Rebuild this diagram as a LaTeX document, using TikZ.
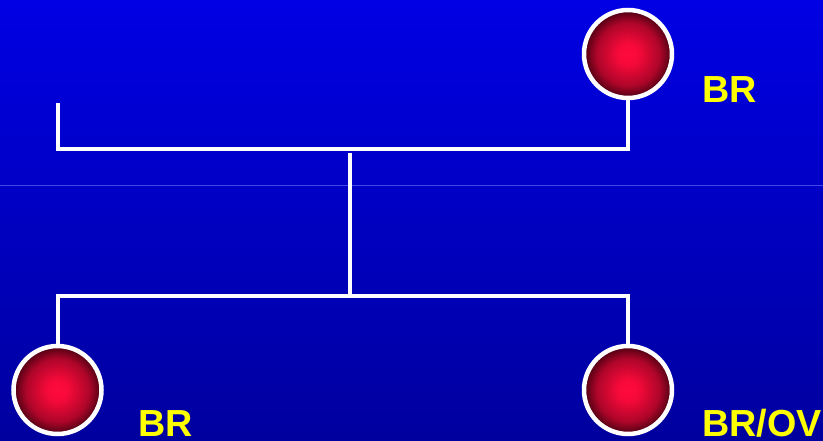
\documentclass[tikz,border=0pt]{standalone}
\usepackage{fontspec}
\setmainfont{Liberation Sans}
\definecolor{bgtop}{HTML}{0000E4}
\definecolor{bgbot}{HTML}{00009E}
\definecolor{ballin}{HTML}{FF0A3C}
\definecolor{ballout}{HTML}{4A0012}
\definecolor{lab}{HTML}{FFFF00}
\pgfdeclareradialshading{ball}{\pgfpoint{0bp}{0bp}}{%
  color(0bp)=(ballin); color(6bp)=(ballin!95!ballout); color(18bp)=(ballin!55!ballout); color(25bp)=(ballout); color(50bp)=(ballout)}
\tikzset{
  x=1pt,y=-1pt,
  wire/.style={draw=white,line width=4pt},
  ball/.style={circle,minimum size=88pt,inner sep=0pt,shading=ball,draw=white,line width=4.5pt},
  lbl/.style={text=lab,font=\fontsize{37.7}{40}\selectfont\bfseries,inner sep=0pt,anchor=base west}
}
\begin{document}
\begin{tikzpicture}
\shade[top color=bgtop,bottom color=bgbot] (0,0) rectangle (823,441);
\useasboundingbox (0,0) rectangle (823,441);
\draw[blue!55!white,line width=0.6pt,opacity=0.6] (0,185.5) -- (823,185.5);
\node[ball] (tr) at (628,54) {};
\node[ball] (bl) at (57.5,390) {};
\node[ball] (br) at (628,390) {};
\coordinate (stub) at (57.5,103);
\coordinate (tl) at (57.5,149);
\coordinate (tc) at (628,149);
\coordinate (mtop) at (350,153);
\coordinate (mbot) at (350,296);
\coordinate (bll) at (57.5,296);
\coordinate (brr) at (628,296);
\draw[wire] (stub) -- (tl) -- (tc) -- (tr.south);
\draw[wire] (mtop) -- (mbot);
\draw[wire] (bl.north) -- (bll) -- (brr) -- (br.north);
\node[lbl] (l1) at (702,103) {BR};
\node[lbl] (l2) at (138,436.5) {BR};
\node[lbl] (l3) at (702,436.5) {BR/OV};
\end{tikzpicture}
\end{document}
